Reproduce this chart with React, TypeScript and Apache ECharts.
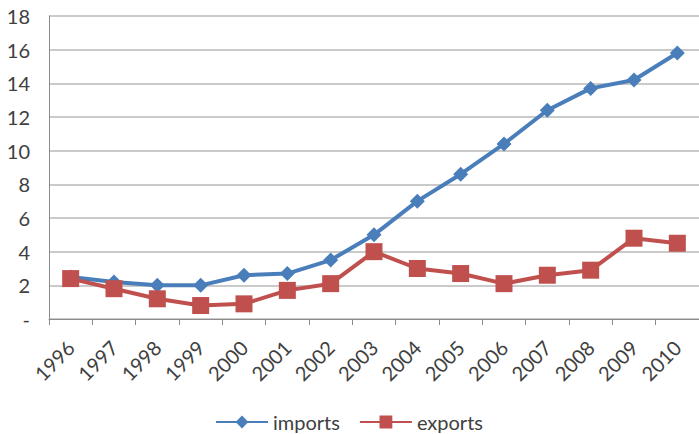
import React, { useEffect, useRef } from "react";
import * as echarts from "echarts";

// Years on the category axis
const years = [
  "1996", "1997", "1998", "1999", "2000", "2001", "2002", "2003",
  "2004", "2005", "2006", "2007", "2008", "2009", "2010",
];

// Import values per year
const imports = [2.5, 2.2, 2.0, 2.0, 2.6, 2.7, 3.5, 5.0, 7.0, 8.6, 10.4, 12.4, 13.7, 14.2, 15.8];

// Export values per year
const exports_ = [2.4, 1.8, 1.2, 0.8, 0.9, 1.7, 2.1, 4.0, 3.0, 2.7, 2.1, 2.6, 2.9, 4.8, 4.5];

const FONT = "Lato, 'Noto Sans', sans-serif";
const TEXT = "#404040";
const BLUE = "#4a7ebb";
const RED = "#c0504d";

export default function App() {
  const ref = useRef<HTMLDivElement>(null);

  useEffect(() => {
    if (!ref.current) return;
    const chart = echarts.init(ref.current, undefined, { renderer: "svg" });
    chart.setOption({
      animation: false,
      backgroundColor: "#ffffff",
      grid: { left: 49, top: 16, width: 660, height: 303, containLabel: false },
      legend: {
        left: 215,
        top: 412,
        padding: 0,
        itemWidth: 52,
        itemHeight: 16,
        itemGap: 19,
        textStyle: { fontFamily: FONT, fontSize: 20, color: TEXT },
        data: ["imports", "exports"],
      },
      xAxis: {
        type: "category",
        data: years,
        boundaryGap: true,
        axisLine: { lineStyle: { color: "#8c8c8c", width: 1 } },
        axisTick: { show: true, length: 6, lineStyle: { color: "#8c8c8c" } },
        axisLabel: {
          rotate: 45,
          margin: 25,
          interval: 0,
          fontFamily: FONT,
          fontSize: 20,
          color: TEXT,
        },
      },
      yAxis: {
        type: "value",
        min: 0,
        max: 18,
        interval: 2,
        axisLine: { show: true, lineStyle: { color: "#8c8c8c", width: 1 } },
        axisTick: { show: false },
        splitLine: { lineStyle: { color: "#b8b8b8", width: 1.5 } },
        axisLabel: {
          margin: 19,
          fontFamily: FONT,
          fontSize: 20,
          color: TEXT,
          formatter: (v: number) => (v === 0 ? "-" : String(v)),
        },
      },
      series: [
        {
          name: "imports",
          type: "line",
          data: imports,
          symbol: "diamond",
          symbolSize: 15,
          showAllSymbol: true,
          lineStyle: { color: BLUE, width: 4 },
          itemStyle: { color: BLUE },
          z: 2,
        },
        {
          name: "exports",
          type: "line",
          data: exports_,
          symbol: "rect",
          symbolSize: 17,
          showAllSymbol: true,
          lineStyle: { color: RED, width: 4 },
          itemStyle: { color: RED },
          z: 3,
        },
      ],
    });
    return () => chart.dispose();
  }, []);

  return (
    <div
      ref={ref}
      style={{ position: "absolute", left: 0, top: 0, width: 699, height: 434 }}
    />
  );
}
